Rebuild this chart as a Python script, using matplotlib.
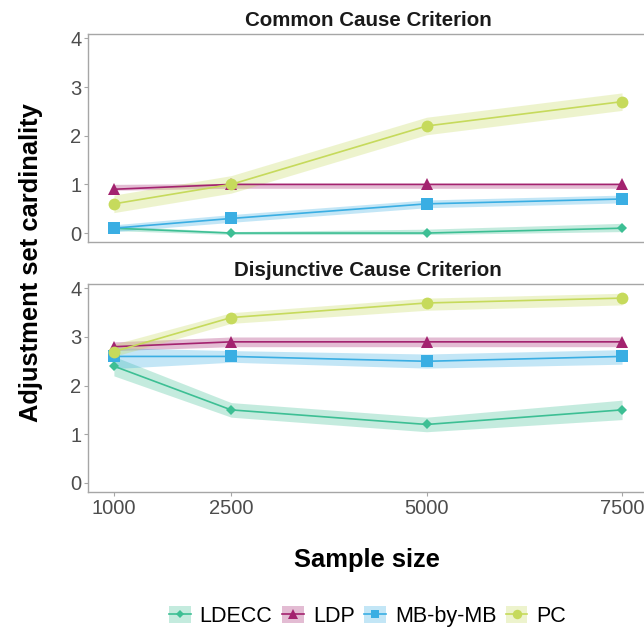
import matplotlib
matplotlib.use("Agg")
import matplotlib.pyplot as plt
from matplotlib.patches import Patch
from matplotlib.lines import Line2D

plt.rcParams['font.family'] = ['Liberation Sans', 'DejaVu Sans']

sample_sizes = [1000, 2500, 5000, 7500]
methods = ["LDECC", "LDP", "MB-by-MB", "PC"]
colors = {"LDECC": "#3DBF94", "LDP": "#A3236F", "MB-by-MB": "#3AAEE3", "PC": "#C6DA5C"}
markers = {"LDECC": "D", "LDP": "^", "MB-by-MB": "s", "PC": "o"}
msizes = {"LDECC": 5.5, "LDP": 9, "MB-by-MB": 8, "PC": 8.5}

panel_titles = ["Common Cause Criterion", "Disjunctive Cause Criterion"]

# Common Cause Criterion
cc_mean = {"LDECC": [0.1, 0.0, 0.0, 0.1],
           "LDP": [0.9, 1.0, 1.0, 1.0],
           "MB-by-MB": [0.1, 0.3, 0.6, 0.7],
           "PC": [0.6, 1.0, 2.2, 2.7]}
cc_lo = {"LDECC": [0.05, -0.03, -0.03, 0.03],
         "LDP": [0.88, 0.92, 0.92, 0.92],
         "MB-by-MB": [0.03, 0.22, 0.52, 0.62],
         "PC": [0.42, 0.82, 2.02, 2.52]}
cc_hi = {"LDECC": [0.15, 0.03, 0.08, 0.2],
         "LDP": [1.0, 1.02, 1.02, 1.02],
         "MB-by-MB": [0.17, 0.38, 0.68, 0.78],
         "PC": [0.78, 1.18, 2.38, 2.88]}

# Disjunctive Cause Criterion
dc_mean = {"LDECC": [2.4, 1.5, 1.2, 1.5],
           "LDP": [2.8, 2.9, 2.9, 2.9],
           "MB-by-MB": [2.6, 2.6, 2.5, 2.6],
           "PC": [2.7, 3.4, 3.7, 3.8]}
dc_lo = {"LDECC": [2.2, 1.35, 1.05, 1.3],
         "LDP": [2.72, 2.8, 2.8, 2.8],
         "MB-by-MB": [2.35, 2.48, 2.36, 2.44],
         "PC": [2.6, 3.28, 3.55, 3.66]}
dc_hi = {"LDECC": [2.6, 1.65, 1.35, 1.7],
         "LDP": [2.9, 3.0, 3.0, 3.0],
         "MB-by-MB": [2.78, 2.72, 2.65, 2.74],
         "PC": [2.85, 3.5, 3.8, 3.9]}

y_ticks = [0, 1, 2, 3, 4]

fig = plt.figure(figsize=(6.44, 6.32), dpi=100)
ax_top = fig.add_axes([0.1374, 0.6166, 0.868, 0.3296])
ax_bot = fig.add_axes([0.1374, 0.2215, 0.868, 0.3291])

grey = "#A6A6A6"
for ax, title, mean, lo, hi in [(ax_top, panel_titles[0], cc_mean, cc_lo, cc_hi),
                                (ax_bot, panel_titles[1], dc_mean, dc_lo, dc_hi)]:
    for m in methods:
        c = colors[m]
        ax.fill_between(sample_sizes, lo[m], hi[m], color=c, alpha=0.3, linewidth=0)
    for m in methods:
        c = colors[m]
        ax.plot(sample_sizes, mean[m], color=c, lw=1.2, marker=markers[m],
                markersize=msizes[m], markeredgewidth=0)
    ax.set_xlim(675, 7825)
    ax.set_ylim(-0.19, 4.09)
    ax.set_yticks(y_ticks)
    ax.set_xticks(sample_sizes)
    for s in ax.spines.values():
        s.set_color(grey)
        s.set_linewidth(1.0)
    ax.tick_params(axis='both', colors=grey, length=3, width=0.8,
                   labelsize=14.5, labelcolor="#4D4D4D", pad=2)
    ax.set_title(title, fontsize=14.8, fontweight='bold', color="#1A1A1A", pad=6)

ax_top.tick_params(axis='x', labelbottom=False, length=0)

fig.text(0.048, 0.585, "Adjustment set cardinality", rotation=90, ha='center',
         va='center', fontsize=18.4, fontweight='bold', color='black')
fig.text(0.57, 0.114, "Sample size", ha='center', va='center', fontsize=18.4,
         fontweight='bold', color='black')

handles = []
for m in methods:
    c = colors[m]
    p = Patch(facecolor=c, alpha=0.3, edgecolor='none')
    l = Line2D([], [], color=c, lw=1.2, marker=markers[m], markersize=msizes[m] * 0.8,
               markeredgewidth=0)
    handles.append((p, l))
fig.legend(handles, methods, loc='center', bbox_to_anchor=(0.571, 0.025), ncol=4,
           frameon=False, fontsize=15.5, handlelength=1.0, handleheight=0.9,
           columnspacing=0.45, handletextpad=0.42)

fig.savefig("out.png", dpi=100)
